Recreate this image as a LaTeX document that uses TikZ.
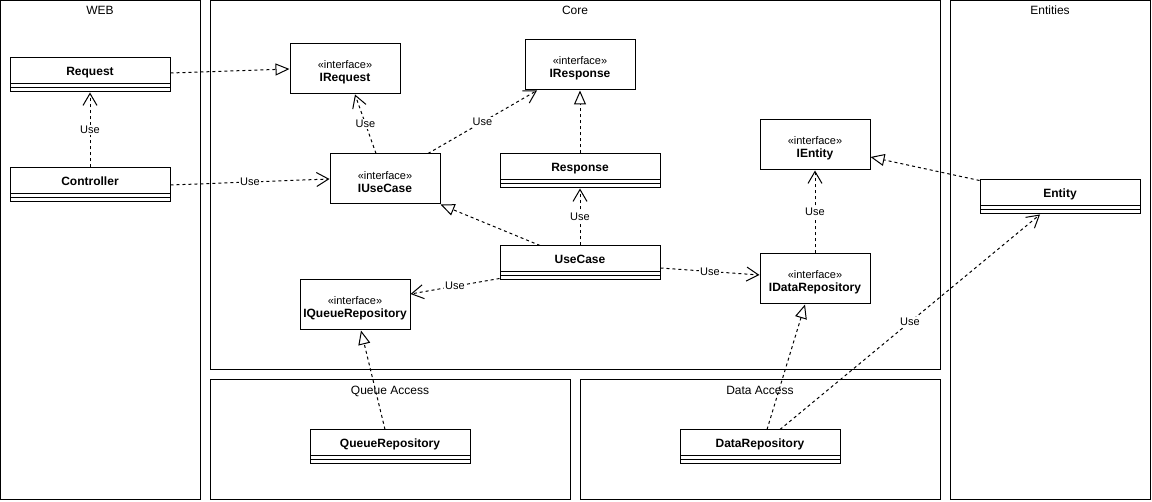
\documentclass[tikz,border=0pt]{standalone}
\usepackage{fontspec}
\setmainfont{Liberation Sans}
\usetikzlibrary{arrows.meta}
\begin{document}
\begin{tikzpicture}[x=1pt,y=-1pt,
  container/.style={draw, line width=1pt},
  lanetitle/.style={font=\fontsize{12}{14}\selectfont, anchor=center, inner sep=0pt, text height=8.6pt, text depth=0pt},
  classbox/.style={draw, line width=1pt, minimum width=160pt, minimum height=34pt, inner sep=0pt,
    path picture={
      \draw[line width=1pt] ([yshift=-26pt]path picture bounding box.north west) -- ([yshift=-26pt]path picture bounding box.north east);
      \draw[line width=1pt] ([yshift=-30pt]path picture bounding box.north west) -- ([yshift=-30pt]path picture bounding box.north east);},
    label={[anchor=center, yshift=-14pt, inner sep=0pt, text height=8.6pt, text depth=0pt,
            font=\bfseries\fontsize{12}{14}\selectfont]north:#1}},
  iface/.style={draw, line width=1pt, minimum width=110pt, minimum height=50pt, inner sep=0pt,
    label={[anchor=center, yshift=-3.5pt, inner sep=0pt, align=center,
            font=\fontsize{12}{13}\selectfont]center:#1}},
  dashline/.style={line width=1pt, dash pattern=on 3pt off 3pt},
  dep/.style={dashline, -{Straight Barb[length=12pt,width=14pt,line width=1pt]}},
  real/.style={dashline, -{Triangle[length=14pt,width=12pt,fill=white,line width=1pt]}},
  uselabel/.style={fill=white, inner sep=1pt, font=\fontsize{11}{12}\selectfont}
]
\useasboundingbox (0,0) rectangle (1152,502);

% lanes
\draw[container] (0.5,0.5) rectangle (200,500);
\draw[container] (210,0.5) rectangle (940,370);
\draw[container] (950,0.5) rectangle (1150,500);
\draw[container] (210,380) rectangle (570,500);
\draw[container] (580,380) rectangle (940,500);
\node[lanetitle] (tweb) at (100,10) {WEB};
\node[lanetitle] (tcore) at (575,10) {Core};
\node[lanetitle] (tent) at (1050,10) {Entities};
\node[lanetitle] (tqa) at (390,390) {Queue Access};
\node[lanetitle] (tda) at (760,390) {Data Access};

% classes
\node[classbox=Request] (req) at (90,75) {};
\node[classbox=Controller] (ctrl) at (90,185) {};
\node[classbox=Response] (resp) at (580,171) {};
\node[classbox=UseCase] (uc) at (580,263) {};
\node[classbox=Entity] (ent) at (1060,197) {};
\node[classbox=QueueRepository] (qr) at (390,447) {};
\node[classbox=DataRepository] (dr) at (760,447) {};

% interfaces
\newcommand{\stereo}{{\fontsize{11}{13}\selectfont «interface»}}
\node[iface={\stereo\\\textbf{IRequest}}] (ireq) at (345,69) {};
\node[iface={\stereo\\\textbf{IResponse}}] (iresp) at (580,65) {};
\node[iface={\stereo\\\textbf{IUseCase}}] (iuc) at (385,179) {};
\node[iface={\stereo\\\textbf{IEntity}}] (ient) at (815,145) {};
\node[iface={\stereo\\\textbf{IDataRepository}}] (idr) at (815,279) {};
\node[iface={\stereo\\\textbf{IQueueRepository}}] (iqr) at (355,305) {};

% realizations
\draw[real] ([yshift=2pt]req.east) -- (ireq.west);
\draw[real] (resp.north) -- (iresp.south);
\draw[real] ([xshift=-40pt]uc.north) -- (iuc.south east);
\draw[real] ([yshift=-1pt]ent.north west) -- ([yshift=-12pt]ient.east);
\draw[real] ([xshift=7pt]dr.north) -- ([xshift=-10pt]idr.south);
\draw[real] ([xshift=-5pt]qr.north) -- ([xshift=6pt]iqr.south);

% dependencies
\draw[dep] (ctrl.north) -- node[uselabel] (u1) {Use} (req.south);
\draw[dep] (ctrl.east) -- node[uselabel] (u2) {Use} (iuc.west);
\draw[dep] ([xshift=-9pt]iuc.north) -- node[uselabel] (u3) {Use} ([xshift=10pt]ireq.south);
\draw[dep] ([xshift=43pt]iuc.north) -- node[uselabel] (u4) {Use} ([xshift=-43pt]iresp.south);
\draw[dep] (uc.north) -- node[uselabel] (u5) {Use} (resp.south);
\draw[dep] ([yshift=2pt]uc.south west) -- node[uselabel] (u6) {Use} ([yshift=11pt]iqr.east);
\draw[dep] ([yshift=-5pt]uc.east) -- node[uselabel] (u7) {Use} ([yshift=4pt]idr.west);
\draw[dep] (idr.north) -- node[uselabel] (u8) {Use} (ient.south);
\draw[dep] ([xshift=20pt]dr.north) -- node[uselabel] (u9) {Use} ([xshift=-20pt]ent.south);
\end{tikzpicture}
\end{document}
